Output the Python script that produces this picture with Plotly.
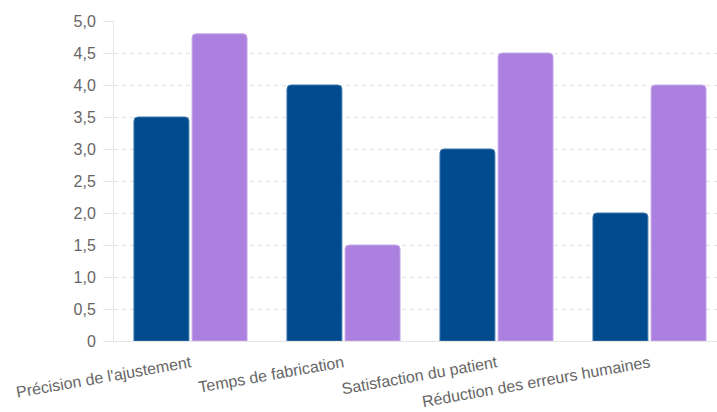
import plotly.graph_objects as go

categories = ["Précision de l'ajustement", "Temps de fabrication", "Satisfaction du patient", "Réduction des erreurs humaines"]
series_a = [3.5, 4.0, 3.0, 2.0]
series_b = [4.8, 1.5, 4.5, 4.0]
series_names = ["Méthode traditionnelle", "Technologie numérique"]
y_tickvals = [0, 0.5, 1.0, 1.5, 2.0, 2.5, 3.0, 3.5, 4.0, 4.5, 5.0]
y_ticktext = ["0", "0,5", "1,0", "1,5", "2,0", "2,5", "3,0", "3,5", "4,0", "4,5", "5,0"]

x_idx = list(range(len(categories)))

fig = go.Figure()
fig.add_trace(go.Bar(
    x=x_idx, y=series_a, name=series_names[0],
    marker=dict(color="#004b8d", line=dict(color="#3f78ad", width=1)),
))
fig.add_trace(go.Bar(
    x=x_idx, y=series_b, name=series_names[1],
    marker=dict(color="#ab80de", line=dict(color="#c7a9ea", width=1)),
))

font_family = "Liberation Sans, Arial, sans-serif"

fig.update_layout(
    width=717, height=412,
    margin=dict(l=114, r=0, t=21, b=71, autoexpand=False),
    paper_bgcolor="white", plot_bgcolor="white",
    barmode="group", bargap=0.24, bargroupgap=0.055,
    barcornerradius=4,
    showlegend=False,
    font=dict(family=font_family, size=16, color="#666666"),
    xaxis=dict(
        range=[-0.5, 3.5 - 9 / 153],
        tickmode="array", tickvals=x_idx, ticktext=categories,
        tickangle=-10, automargin=False,
        showgrid=False, zeroline=False,
        showline=True, linecolor="#e6e6e6", linewidth=1,
        ticks="outside", ticklen=0, ticklabelstandoff=6,
        tickfont=dict(family=font_family, size=16, color="#666666"),
    ),
    yaxis=dict(
        range=[0, 5], automargin=False,
        tickmode="array", tickvals=y_tickvals, ticktext=y_ticktext,
        showgrid=True, gridcolor="#e3e3e3", griddash="4px,4px", gridwidth=1,
        zeroline=False,
        showline=True, linecolor="#e6e6e6", linewidth=1,
        ticks="outside", ticklen=10, tickcolor="#e6e6e6",
        ticklabelstandoff=4,
        tickfont=dict(family=font_family, size=16, color="#666666"),
    ),
)

fig.write_html("out.html")
